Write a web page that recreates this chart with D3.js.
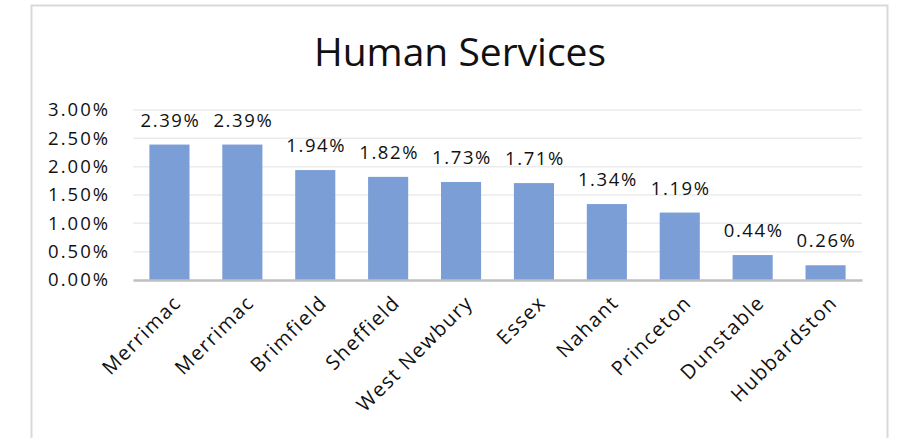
<!DOCTYPE html>
<html>
<head>
<meta charset="utf-8">
<script src="https://cdn.jsdelivr.net/npm/d3@7"></script>
<style>
  html, body { margin: 0; padding: 0; background: #fff; }
  svg { display: block; }
  text { font-family: "Open Sans", "Noto Sans", sans-serif; fill: #111; }
</style>
</head>
<body>
<svg id="chart" width="898" height="438"></svg>
<script>
// Town names and their human services share
const towns = ["Merrimac", "Merrimac", "Brimfield", "Sheffield", "West Newbury",
               "Essex", "Nahant", "Princeton", "Dunstable", "Hubbardston"];
const shares = [0.0239, 0.0239, 0.0194, 0.0182, 0.0173, 0.0171, 0.0134, 0.0119, 0.0044, 0.0026];
const yTicks = [0, 0.005, 0.01, 0.015, 0.02, 0.025, 0.03];
const chartTitle = "Human Services";

const svg = d3.select("#chart");
const pct = d3.format(".2%");

// Outer chart frame
svg.append("rect")
  .attr("x", 31.5).attr("y", 5.5)
  .attr("width", 856).attr("height", 450)
  .attr("fill", "#fff").attr("stroke", "#d9d9d9").attr("stroke-width", 2);

const plot = { left: 133, right: 862, top: 110, bottom: 280 };

const x = d3.scaleBand()
  .domain(d3.range(towns.length))
  .range([plot.left, plot.right])
  .paddingInner(0.45)
  .paddingOuter(0.225);

const y = d3.scaleLinear()
  .domain([0, 0.03])
  .range([plot.bottom, plot.top]);

// Title
svg.append("text")
  .attr("x", 460).attr("y", 66)
  .attr("text-anchor", "middle")
  .style("font-size", "39px")
  .text(chartTitle);

// Horizontal gridlines
svg.append("g")
  .selectAll("line")
  .data(yTicks.filter(d => d > 0))
  .join("line")
  .attr("x1", plot.left).attr("x2", plot.right)
  .attr("y1", d => y(d)).attr("y2", d => y(d))
  .attr("stroke", "#ebebeb").attr("stroke-width", 1.5);

// Y axis labels
const yAxis = d3.axisLeft(y).tickValues(yTicks).tickFormat(pct).tickSize(0).tickPadding(23);
svg.append("g")
  .attr("transform", `translate(${plot.left},0)`)
  .call(yAxis)
  .call(g => g.select(".domain").remove())
  .call(g => g.selectAll("text")
    .style("font-size", "18.5px")
    .style("letter-spacing", "2px")
    .style("font-family", "'Open Sans', sans-serif")
    .attr("fill", "#111"));

// Bars
svg.append("g")
  .selectAll("rect")
  .data(shares)
  .join("rect")
  .attr("x", (d, i) => x(i))
  .attr("y", d => y(d))
  .attr("width", x.bandwidth())
  .attr("height", d => y(0) - y(d))
  .attr("fill", "#7b9ed6");

// Value labels
svg.append("g")
  .selectAll("text")
  .data(shares)
  .join("text")
  .attr("x", (d, i) => x(i) + x.bandwidth() / 2 + 1)
  .attr("y", d => y(d) - 18)
  .attr("text-anchor", "middle")
  .style("font-size", "18.5px")
  .style("letter-spacing", "1.6px")
  .text(d => pct(d));

// Baseline axis
const xAxis = d3.axisBottom(x).tickSize(0).tickFormat(i => towns[i]);
svg.append("g")
  .attr("transform", `translate(0,${plot.bottom})`)
  .call(xAxis)
  .call(g => g.select(".domain").attr("stroke", "#bfbfbf").attr("stroke-width", 2.5))
  .call(g => g.selectAll(".tick text")
    .style("font-size", "20px")
    .style("letter-spacing", "1.5px")
    .style("font-family", "'Open Sans', sans-serif")
    .attr("fill", "#111")
    .attr("text-anchor", "end")
    .attr("dy", null)
    .attr("y", 0)
    .attr("transform", "translate(13,24) rotate(-45)"));
</script>
</body>
</html>
